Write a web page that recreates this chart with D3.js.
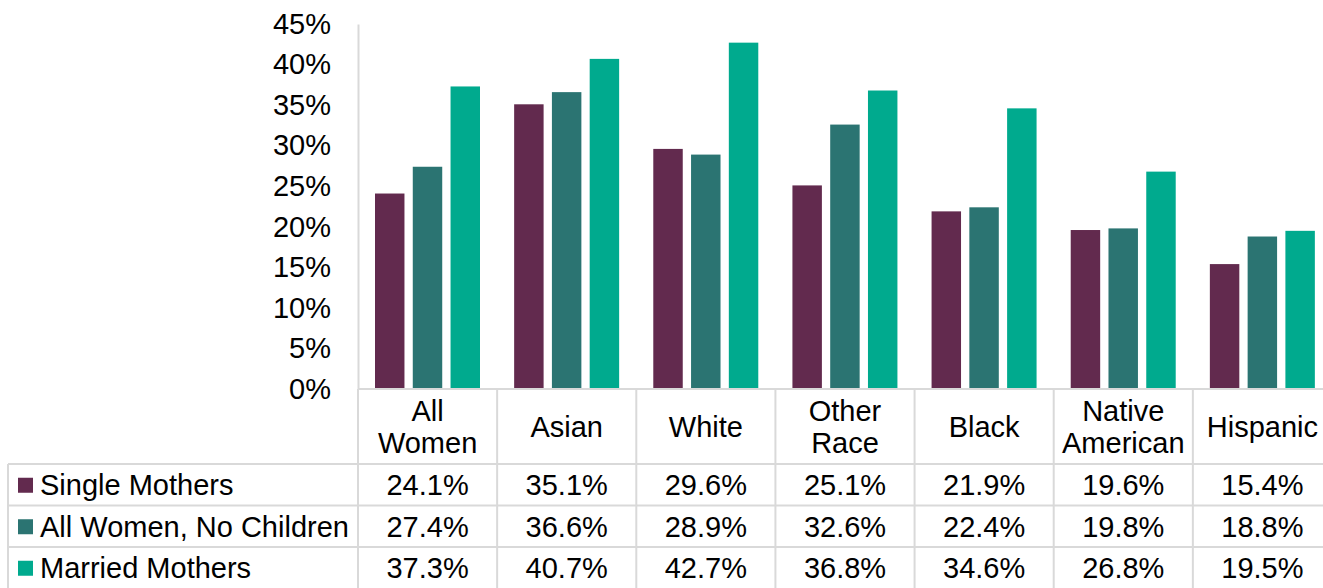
<!DOCTYPE html>
<html>
<head>
<meta charset="utf-8">
<script src="https://cdn.jsdelivr.net/npm/d3@7"></script>
<style>
    body { margin: 0; background: #fff; }
    svg { display: block; font-family: "Liberation Sans", Arial, sans-serif; }
</style>
</head>
<body>
<svg id="chart" width="1323" height="588"></svg>
<script>
// Data
const categories = [["All", "Women"], ["Asian"], ["White"], ["Other", "Race"], ["Black"], ["Native", "American"], ["Hispanic"]];
const seriesNames = ["Single Mothers", "All Women, No Children", "Married Mothers"];
const singleMothers = [24.1, 35.1, 29.6, 25.1, 21.9, 19.6, 15.4];
const noChildren = [27.4, 36.6, 28.9, 32.6, 22.4, 19.8, 18.8];
const marriedMothers = [37.3, 40.7, 42.7, 36.8, 34.6, 26.8, 19.5];
const yTicks = [0, 5, 10, 15, 20, 25, 30, 35, 40, 45];

const series = [singleMothers, noChildren, marriedMothers];
const colors = ["#622a4e", "#2b7472", "#00aa8e"];
const gridColor = "#d9d9d9";
const fontSize = 29;

// Layout
const plotLeft = 358, plotRight = 1332, plotTop = 24, plotBottom = 389;
const tableLeft = 8, headerBottom = 464, rowH = 41.5;

const svg = d3.select("#chart");

const keys = categories.map((c, i) => i);
const x0 = d3.scaleBand().domain(keys).range([plotLeft, plotRight]);
const x1 = d3.scaleBand().domain([0, 1, 2]).range([17, 122]).paddingInner(0.22);
const y = d3.scaleLinear().domain([0, 45]).range([plotBottom, plotTop]);

// Y axis
const yAxis = svg.append("g")
    .attr("transform", "translate(" + plotLeft + ",0)")
    .call(d3.axisLeft(y).tickValues(yTicks).tickSize(0).tickPadding(27).tickFormat(d => d + "%"));
yAxis.select(".domain").attr("stroke", gridColor).attr("stroke-width", 2);
yAxis.selectAll("text").attr("font-size", fontSize).attr("fill", "#000")
    .attr("font-family", "'Liberation Sans', Arial, sans-serif");

// Bars
const groups = svg.append("g").selectAll("g")
    .data(keys)
    .join("g")
    .attr("transform", d => "translate(" + x0(d) + ",0)");

groups.selectAll("rect")
    .data(i => series.map((s, j) => ({ j: j, v: s[i] })))
    .join("rect")
    .attr("x", d => x1(d.j))
    .attr("width", x1.bandwidth())
    .attr("y", d => y(d.v))
    .attr("height", d => y(0) - y(d.v))
    .attr("fill", d => colors[d.j]);

// Table grid
const grid = svg.append("g").attr("stroke", gridColor).attr("stroke-width", 2);
grid.append("line").attr("x1", plotLeft).attr("x2", plotRight).attr("y1", plotBottom).attr("y2", plotBottom);
seriesNames.forEach((n, r) => {
    grid.append("line").attr("x1", tableLeft).attr("x2", plotRight)
        .attr("y1", headerBottom + r * rowH).attr("y2", headerBottom + r * rowH);
});
grid.append("line").attr("x1", tableLeft).attr("x2", tableLeft).attr("y1", headerBottom).attr("y2", 588);
keys.forEach(k => {
    grid.append("line").attr("x1", x0(k)).attr("x2", x0(k)).attr("y1", plotBottom).attr("y2", 588);
});

// Category header labels
const header = svg.append("g").attr("font-size", fontSize).attr("text-anchor", "middle");
categories.forEach((lines, i) => {
    const cx = x0(i) + x0.bandwidth() / 2;
    const cy = (plotBottom + headerBottom) / 2;
    lines.forEach((t, li) => {
        header.append("text")
            .attr("x", cx)
            .attr("y", cy + (li - (lines.length - 1) / 2) * 32)
            .attr("dy", "0.36em")
            .text(t);
    });
});

// Legend column + values
const rows = svg.append("g").attr("font-size", fontSize);
seriesNames.forEach((n, r) => {
    const cy = headerBottom + r * rowH + rowH / 2;
    rows.append("rect").attr("x", 18).attr("y", cy - 7).attr("width", 15).attr("height", 15).attr("fill", colors[r]);
    rows.append("text").attr("x", 40).attr("y", cy).attr("dy", "0.36em").text(n);
    series[r].forEach((v, i) => {
        rows.append("text")
            .attr("x", x0(i) + x0.bandwidth() / 2)
            .attr("y", cy)
            .attr("dy", "0.36em")
            .attr("text-anchor", "middle")
            .text(v.toFixed(1) + "%");
    });
});
</script>
</body>
</html>
